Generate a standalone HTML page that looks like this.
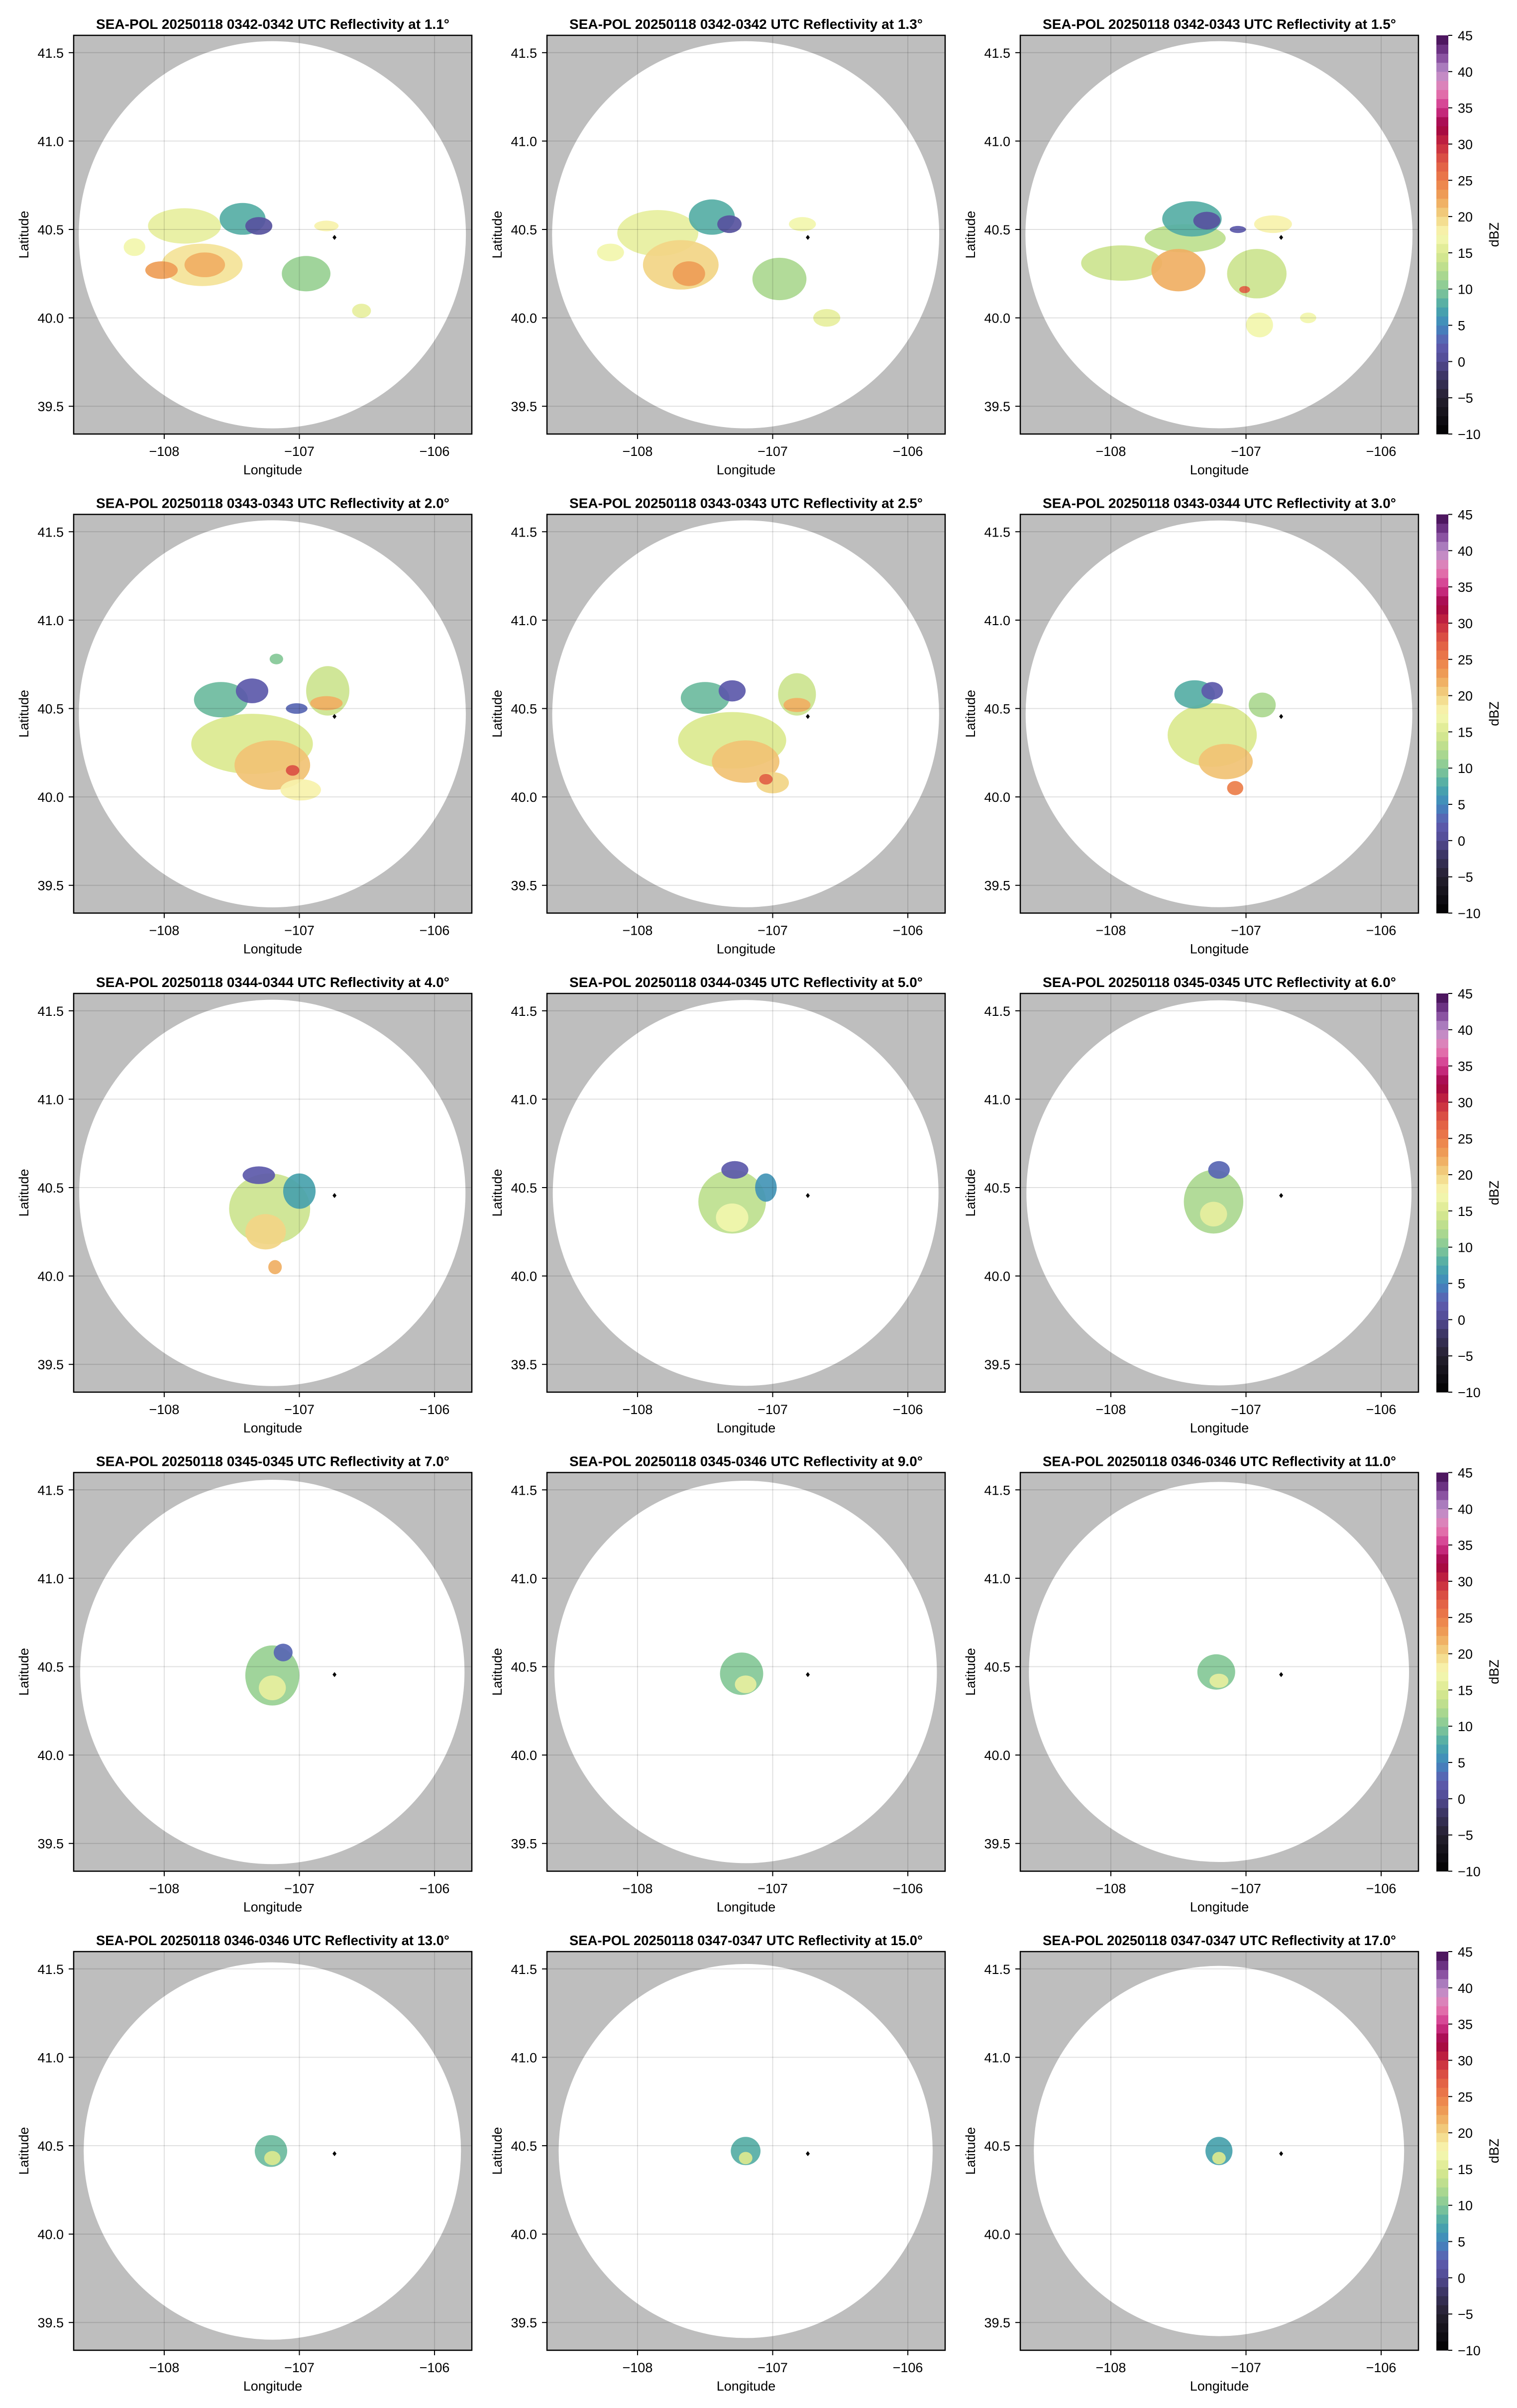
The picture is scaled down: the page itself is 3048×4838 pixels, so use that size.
<!DOCTYPE html>
<html><head><meta charset="utf-8"><style>
html,body{margin:0;padding:0;background:#fff}
svg{display:block}
text{font-family:"Liberation Sans",Arial,sans-serif;fill:#000}
</style></head><body>
<svg id="fig" xmlns="http://www.w3.org/2000/svg" width="3048" height="4838" viewBox="0 0 3048 4838"></svg>
<script>
const times = ["0342-0342","0342-0342","0342-0343","0343-0343","0343-0343","0343-0344","0344-0344","0344-0345","0345-0345","0345-0345","0345-0346","0346-0346","0346-0346","0347-0347","0347-0347"];
const elevations = [1.1,1.3,1.5,2.0,2.5,3.0,4.0,5.0,6.0,7.0,9.0,11.0,13.0,15.0,17.0];
const lonTicks = [-108,-107,-106];
const latTicks = [39.5,40.0,40.5,41.0,41.5];
const cbTicks = [-10,-5,0,5,10,15,20,25,30,35,40,45];
const radarSite = [-106.74,40.455];
const rangeCenter = [-107.20,40.47];
// echo blobs per panel: [lon, lat, rxDeg, ryDeg, dBZ]
const echoes = [
 [[-107.85,40.52,0.27,0.10,16],[-107.42,40.56,0.17,0.09,8],[-107.30,40.52,0.10,0.05,1],[-107.72,40.30,0.30,0.12,19],[-107.70,40.30,0.15,0.07,22],[-108.02,40.27,0.12,0.05,23],[-106.95,40.25,0.18,0.10,11],[-106.80,40.52,0.09,0.03,18],[-106.54,40.04,0.07,0.04,16],[-108.22,40.40,0.08,0.05,17]],
 [[-107.85,40.48,0.30,0.13,16],[-107.45,40.57,0.17,0.10,8],[-107.32,40.53,0.09,0.05,1],[-107.68,40.30,0.28,0.14,20],[-107.62,40.25,0.12,0.07,23],[-106.95,40.22,0.20,0.12,12],[-106.78,40.53,0.10,0.04,17],[-106.60,40.00,0.10,0.05,16],[-108.20,40.37,0.10,0.05,17]],
 [[-107.92,40.31,0.30,0.10,14],[-107.45,40.45,0.30,0.08,13],[-107.40,40.56,0.22,0.10,8],[-107.29,40.55,0.10,0.05,1],[-107.50,40.27,0.20,0.12,22],[-106.92,40.25,0.22,0.14,14],[-107.01,40.16,0.04,0.02,27],[-106.80,40.53,0.14,0.05,18],[-106.90,39.96,0.10,0.07,17],[-106.54,40.00,0.06,0.03,17],[-107.06,40.50,0.06,0.02,2]],
 [[-107.35,40.30,0.45,0.17,15],[-107.20,40.18,0.28,0.14,21],[-107.58,40.55,0.20,0.10,9],[-107.35,40.60,0.12,0.07,2],[-106.79,40.60,0.16,0.14,14],[-106.80,40.53,0.12,0.04,22],[-107.02,40.50,0.08,0.03,3],[-106.99,40.04,0.15,0.06,18],[-107.05,40.15,0.05,0.03,28],[-107.17,40.78,0.05,0.03,10]],
 [[-107.30,40.32,0.40,0.16,15],[-107.20,40.20,0.25,0.12,21],[-107.50,40.56,0.18,0.09,9],[-107.30,40.60,0.10,0.06,2],[-106.82,40.58,0.14,0.12,14],[-106.82,40.52,0.10,0.04,22],[-107.00,40.08,0.12,0.06,20],[-107.05,40.10,0.05,0.03,27]],
 [[-107.25,40.35,0.33,0.18,15],[-107.15,40.20,0.20,0.10,21],[-107.38,40.58,0.15,0.08,8],[-107.25,40.60,0.08,0.05,2],[-106.88,40.52,0.10,0.07,12],[-107.08,40.05,0.06,0.04,25]],
 [[-107.22,40.38,0.30,0.20,14],[-107.25,40.25,0.15,0.10,20],[-107.30,40.57,0.12,0.05,2],[-107.00,40.48,0.12,0.10,7],[-107.18,40.05,0.05,0.04,22]],
 [[-107.30,40.42,0.25,0.18,13],[-107.30,40.33,0.12,0.08,17],[-107.28,40.60,0.10,0.05,2],[-107.05,40.50,0.08,0.08,6]],
 [[-107.24,40.42,0.22,0.18,12],[-107.24,40.35,0.10,0.07,16],[-107.20,40.60,0.08,0.05,3]],
 [[-107.20,40.45,0.20,0.17,11],[-107.20,40.38,0.10,0.07,16],[-107.12,40.58,0.07,0.05,3]],
 [[-107.23,40.46,0.16,0.12,10],[-107.20,40.40,0.08,0.05,16]],
 [[-107.22,40.47,0.14,0.10,10],[-107.20,40.42,0.07,0.04,16]],
 [[-107.21,40.47,0.12,0.09,9],[-107.20,40.43,0.06,0.04,15]],
 [[-107.20,40.47,0.11,0.08,8],[-107.20,40.43,0.05,0.035,15]],
 [[-107.20,40.47,0.10,0.08,7],[-107.20,40.43,0.05,0.035,15]]
];
const cmapVals = [-10,-5,-2,0,2.5,5,7.5,10,12.5,15,17.5,20,22.5,25,27.5,30,32.5,35,37.5,40,42.5,45];
const cmapCols = ["#000000","#25202f","#3c3563","#524a92","#5e5db0","#3f88bf","#4aa8a8","#84c897","#b5dc8e","#dbe98f","#f8f9b5","#f2d585","#efa55a","#ec7e4a","#e05a45","#c7293f","#9e0142","#d0358c","#e67fb4","#b98fca","#7b3f94","#3f0a4f"];

const NS="http://www.w3.org/2000/svg";
const svg=document.getElementById('fig');
function mk(tag,attrs,parent){const e=document.createElementNS(NS,tag);for(const k in attrs)e.setAttribute(k,attrs[k]);(parent||svg).appendChild(e);return e;}
function hex(c){return [parseInt(c.slice(1,3),16),parseInt(c.slice(3,5),16),parseInt(c.slice(5,7),16)];}
function cmap(v){
  if(v<=cmapVals[0])return cmapCols[0];
  for(let i=1;i<cmapVals.length;i++){if(v<=cmapVals[i]){const t=(v-cmapVals[i-1])/(cmapVals[i]-cmapVals[i-1]);const a=hex(cmapCols[i-1]),b=hex(cmapCols[i]);return `rgb(${a.map((x,j)=>Math.round(x+(b[j]-x)*t)).join(',')})`;}}
  return cmapCols[cmapCols.length-1];
}
const W=800,H=801,LON0=-108.67,LON1=-105.724,LAT0=39.343,LAT1=41.598;
const colL=[148,1099,2050], rowT=[71,1033.5,1996,2958.5,3921];

for(let p=0;p<15;p++){
  const L=colL[p%3],T=rowT[Math.floor(p/3)];
  const X=lon=>L+(lon-LON0)/(LON1-LON0)*W;
  const Y=lat=>T+(LAT1-lat)/(LAT1-LAT0)*H;
  const g=mk('g',{});
  
  
  const cid='clip'+p;
  const cp=mk('clipPath',{id:cid},g);mk('rect',{x:L,y:T,width:W,height:H},cp);
  const bg=mk('rect',{x:L,y:T,width:W,height:H,fill:'#bebebe'},g);
  
  
  const R=389*Math.cos(elevations[p]*Math.PI/180);
  const disk=mk('circle',{cx:X(rangeCenter[0]),cy:Y(rangeCenter[1]),r:R,fill:'#fff','clip-path':`url(#${cid})`},g);
  
  
  const eg=mk('g',{'clip-path':`url(#${cid})`},g);
  echoes[p].forEach(b=>{
    const rxp=(X(b[0]+b[2])-X(b[0])), ryp=(Y(b[1]-b[3])-Y(b[1]));
    const e=mk('ellipse',{cx:X(b[0]),cy:Y(b[1]),rx:rxp,ry:ryp,fill:cmap(b[4]),opacity:0.92},eg);
    
    
  });
  lonTicks.forEach(v=>{const l=mk('line',{x1:X(v),x2:X(v),y1:T,y2:T+H,stroke:'rgba(0,0,0,0.12)','stroke-width':2},g);
    });
  latTicks.forEach(v=>{const l=mk('line',{x1:L,x2:L+W,y1:Y(v),y2:Y(v),stroke:'rgba(0,0,0,0.12)','stroke-width':2},g);
    });
  const sx=X(radarSite[0]),sy=Y(radarSite[1]);
  const site=mk('polygon',{points:`${sx},${sy-5} ${sx+4},${sy} ${sx},${sy+5} ${sx-4},${sy}`,fill:'#000'},g);
  
  
  const fr=mk('rect',{x:L,y:T,width:W,height:H,fill:'none',stroke:'#000','stroke-width':2.5},g);
  
  
  lonTicks.forEach(v=>{
    mk('line',{x1:X(v),x2:X(v),y1:T+H,y2:T+H+10,stroke:'#000','stroke-width':2},g);
    const t=mk('text',{x:X(v),y:T+H+44,'text-anchor':'middle','font-size':27},g);t.textContent=(v<0?'\u2212':'')+Math.abs(v);
    
  });
  latTicks.forEach(v=>{
    mk('line',{x1:L-10,x2:L,y1:Y(v),y2:Y(v),stroke:'#000','stroke-width':2},g);
    const t=mk('text',{x:L-20,y:Y(v)+10,'text-anchor':'end','font-size':27},g);t.textContent=v.toFixed(1);
    
  });
  const xl=mk('text',{x:L+W/2,y:T+H+81,'text-anchor':'middle','font-size':27},g);xl.textContent='Longitude';
  
  const yl=mk('text',{x:0,y:0,'text-anchor':'middle','font-size':27,transform:`translate(${L-91},${T+H/2}) rotate(-90)`},g);yl.textContent='Latitude';
  
  const ttl=mk('text',{x:L+W/2,y:T-13,'text-anchor':'middle','font-size':28,'font-weight':'bold',textLength:710,lengthAdjust:'spacingAndGlyphs'},g);
  ttl.textContent=`SEA-POL 20250118 ${times[p]} UTC Reflectivity at ${elevations[p].toFixed(1)}\u00b0`;
  

  if(p%3===2){
    const cg=mk('g',{},svg);
    
    
    const cx0=L+836,cw=24;
    const CY=v=>T+(45-v)/55*H;
    const nb=44;
    for(let i=0;i<nb;i++){
      const v0=-10+i*55/nb,v1=v0+55/nb;
      const r=mk('rect',{x:cx0,y:CY(v1),width:cw,height:CY(v0)-CY(v1)+0.6,fill:cmap((v0+v1)/2)},cg);
      
    }
    cbTicks.forEach(v=>{
      mk('line',{x1:cx0+cw,x2:cx0+cw+8,y1:CY(v),y2:CY(v),stroke:'#000','stroke-width':2},cg);
      const t=mk('text',{x:cx0+cw+19,y:CY(v)+10,'font-size':27},cg);t.textContent=(v<0?'\u2212':'')+Math.abs(v);
      
    });
    const cl=mk('text',{x:0,y:0,'text-anchor':'middle','font-size':27,transform:`translate(${L+961},${T+H/2}) rotate(-90)`},cg);cl.textContent='dBZ';
    
  }
}
</script>
</body></html>
